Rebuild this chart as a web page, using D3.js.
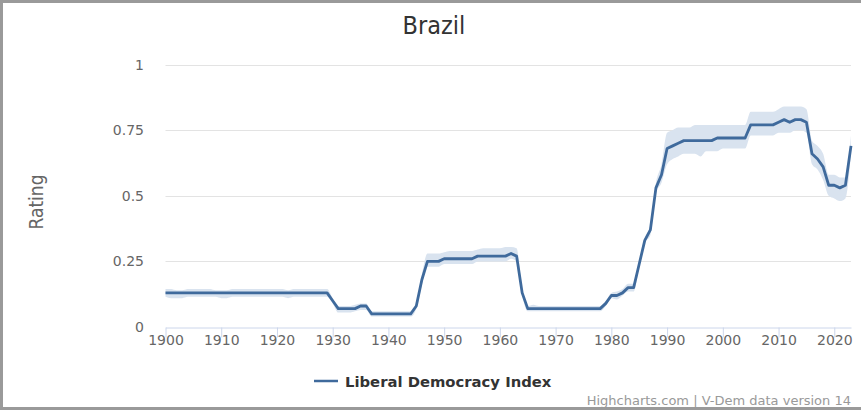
<!DOCTYPE html>
<html>
<head>
<meta charset="utf-8">
<script src="https://cdn.jsdelivr.net/npm/d3@7"></script>
<style>
  body { margin: 0; background: #fff; }
  svg { display: block; font-family: "DejaVu Sans", Verdana, sans-serif; }
</style>
</head>
<body>
<svg id="chart" width="861" height="410"></svg>
<script>
// years 1900 - 2023
const years = d3.range(1900, 2024)

// Liberal Democracy Index
const libdem = [
  0.13, 0.13, 0.13, 0.13, 0.13, 0.13, 0.13, 0.13, 0.13, 0.13, // 1900s
  0.13, 0.13, 0.13, 0.13, 0.13, 0.13, 0.13, 0.13, 0.13, 0.13, // 1910s
  0.13, 0.13, 0.13, 0.13, 0.13, 0.13, 0.13, 0.13, 0.13, 0.13, // 1920s
  0.10, 0.07, 0.07, 0.07, 0.07, 0.08, 0.08, 0.05, 0.05, 0.05, // 1930s
  0.05, 0.05, 0.05, 0.05, 0.05, 0.08, 0.18, 0.25, 0.25, 0.25, // 1940s
  0.26, 0.26, 0.26, 0.26, 0.26, 0.26, 0.27, 0.27, 0.27, 0.27, // 1950s
  0.27, 0.27, 0.28, 0.27, 0.13, 0.07, 0.07, 0.07, 0.07, 0.07, // 1960s
  0.07, 0.07, 0.07, 0.07, 0.07, 0.07, 0.07, 0.07, 0.07, 0.09, // 1970s
  0.12, 0.12, 0.13, 0.15, 0.15, 0.24, 0.33, 0.37, 0.53, 0.58, // 1980s
  0.68, 0.69, 0.70, 0.71, 0.71, 0.71, 0.71, 0.71, 0.71, 0.72, // 1990s
  0.72, 0.72, 0.72, 0.72, 0.72, 0.77, 0.77, 0.77, 0.77, 0.77, // 2000s
  0.78, 0.79, 0.78, 0.79, 0.79, 0.78, 0.66, 0.64, 0.61, 0.54, // 2010s
  0.54, 0.53, 0.54, 0.69                                      // 2020s
]

// confidence band, upper and lower
const upper = [
  0.145, 0.145, 0.14, 0.14, 0.145, 0.145, 0.145, 0.145, 0.145, 0.14,
  0.14, 0.14, 0.145, 0.145, 0.145, 0.145, 0.145, 0.145, 0.145, 0.145,
  0.145, 0.145, 0.14, 0.145, 0.145, 0.145, 0.145, 0.145, 0.145, 0.145,
  0.11, 0.08, 0.08, 0.08, 0.085, 0.09, 0.09, 0.06, 0.06, 0.06,
  0.06, 0.06, 0.06, 0.06, 0.06, 0.09, 0.20, 0.28, 0.28, 0.28,
  0.285, 0.29, 0.29, 0.29, 0.29, 0.29, 0.295, 0.30, 0.30, 0.30,
  0.30, 0.305, 0.305, 0.30, 0.14, 0.08, 0.085, 0.08, 0.08, 0.08,
  0.08, 0.08, 0.08, 0.08, 0.08, 0.08, 0.08, 0.08, 0.08, 0.10,
  0.13, 0.135, 0.145, 0.165, 0.165, 0.25, 0.34, 0.39, 0.55, 0.62,
  0.74, 0.75, 0.76, 0.76, 0.76, 0.77, 0.77, 0.77, 0.77, 0.77,
  0.77, 0.77, 0.77, 0.77, 0.77, 0.82, 0.82, 0.82, 0.82, 0.82,
  0.83, 0.84, 0.84, 0.84, 0.84, 0.83, 0.71, 0.69, 0.66, 0.58,
  0.58, 0.57, 0.57, 0.73
]

const lower = [
  0.115, 0.11, 0.11, 0.11, 0.115, 0.115, 0.115, 0.115, 0.115, 0.115,
  0.11, 0.11, 0.115, 0.115, 0.115, 0.115, 0.115, 0.115, 0.115, 0.115,
  0.115, 0.115, 0.11, 0.115, 0.115, 0.115, 0.115, 0.115, 0.115, 0.115,
  0.09, 0.055, 0.055, 0.055, 0.06, 0.065, 0.065, 0.04, 0.04, 0.04,
  0.04, 0.04, 0.04, 0.04, 0.04, 0.07, 0.16, 0.23, 0.23, 0.23,
  0.24, 0.24, 0.24, 0.24, 0.24, 0.24, 0.25, 0.25, 0.25, 0.25,
  0.25, 0.25, 0.26, 0.25, 0.12, 0.06, 0.06, 0.06, 0.06, 0.06,
  0.06, 0.06, 0.06, 0.06, 0.06, 0.06, 0.06, 0.06, 0.06, 0.08,
  0.11, 0.105, 0.12, 0.135, 0.135, 0.23, 0.32, 0.35, 0.51, 0.55,
  0.62, 0.64, 0.65, 0.66, 0.66, 0.66, 0.65, 0.67, 0.67, 0.67,
  0.68, 0.68, 0.68, 0.68, 0.68, 0.73, 0.73, 0.73, 0.73, 0.73,
  0.74, 0.74, 0.74, 0.75, 0.75, 0.74, 0.62, 0.60, 0.56, 0.50,
  0.49, 0.48, 0.49, 0.66
]

const yTicks = [0, 0.25, 0.5, 0.75, 1]
const yTickLabels = ["0", "0.25", "0.5", "0.75", "1"]
const xTicks = d3.range(1900, 2021, 10)

const data = years.map((yr, i) => ({year: yr, value: libdem[i], hi: upper[i], lo: lower[i]}))

const xScale = d3.scaleLinear()
    .domain([1900, 2023])
    .range([165.5, 851])

const yScale = d3.scaleLinear()
    .domain([0, 1])
    .range([327, 64.5])

const svg = d3.select('#chart')

// outer frame (top, left, bottom)
svg.append('path')
    .attr('d', 'M861,1.5 H1.5 V408.5 H861')
    .attr('fill', 'none')
    .attr('stroke', '#9a9a9a')
    .attr('stroke-width', 3)

svg.append('text')
    .attr('x', 434)
    .attr('y', 34)
    .attr('text-anchor', 'middle')
    .style('font-family', '"DejaVu Sans Condensed", "Liberation Sans Narrow", "DejaVu Sans", sans-serif')
    .style('font-size', '25px')
    .attr('fill', '#333')
    .text('Brazil')

// grid lines
svg.append('g')
    .selectAll('line')
    .data(yTicks.slice(1))
    .enter()
    .append('line')
    .attr('x1', 165.5)
    .attr('x2', 851)
    .attr('y1', d => Math.round(yScale(d)) + 0.5)
    .attr('y2', d => Math.round(yScale(d)) + 0.5)
    .attr('stroke', '#e3e3e3')
    .attr('stroke-width', 1)

// y labels
svg.append('g')
    .selectAll('text')
    .data(yTicks)
    .enter()
    .append('text')
    .attr('x', 144)
    .attr('y', d => yScale(d) + 5)
    .attr('text-anchor', 'end')
    .style('font-size', '14px')
    .attr('fill', '#666')
    .text((d, i) => yTickLabels[i])

svg.append('text')
    .attr('transform', 'translate(43,202) rotate(-90)')
    .attr('text-anchor', 'middle')
    .style('font-family', '"DejaVu Sans Condensed", "Liberation Sans Narrow", "DejaVu Sans", sans-serif')
    .style('font-size', '19px')
    .attr('fill', '#666')
    .text('Rating')

// x axis
const xAxis = d3.axisBottom(xScale)
    .tickValues(xTicks)
    .tickFormat(d3.format('d'))
    .tickSize(10)
    .tickSizeOuter(0)

const gx = svg.append('g')
    .attr('transform', 'translate(0,327.5)')
    .call(xAxis)
gx.select('.domain').attr('stroke', '#ccd6eb')
gx.selectAll('.tick line').attr('stroke', '#ccd6eb')
gx.selectAll('.tick text')
    .attr('fill', '#666')
    .attr('y', 8)
    .attr('dy', '0.71em')
    .style('font-size', '14px')
    .style('font-family', '"DejaVu Sans", sans-serif')

// confidence band
const band = d3.area()
    .x(d => xScale(d.year))
    .y0(d => yScale(d.lo))
    .y1(d => yScale(d.hi))
    .curve(d3.curveMonotoneX)

svg.append('path')
    .datum(data)
    .attr('d', band)
    .attr('fill', '#d9e3ef')

const line = d3.line()
    .x(d => xScale(d.year))
    .y(d => yScale(d.value))

svg.append('path')
    .datum(data)
    .attr('d', line)
    .attr('fill', 'none')
    .attr('stroke', '#3f6a9c')
    .attr('stroke-width', 2.8)
    .attr('stroke-linejoin', 'round')

// legend
const legend = svg.append('g').attr('transform', 'translate(314,381)')
legend.append('line')
    .attr('x1', 0).attr('x2', 24)
    .attr('y1', 0).attr('y2', 0)
    .attr('stroke', '#3f6a9c')
    .attr('stroke-width', 2.5)
legend.append('text')
    .attr('x', 31)
    .attr('y', 5.5)
    .style('font-size', '14.8px')
    .style('font-weight', 'bold')
    .attr('fill', '#333')
    .text('Liberal Democracy Index')

svg.append('text')
    .attr('x', 851)
    .attr('y', 405)
    .attr('text-anchor', 'end')
    .style('font-size', '13px')
    .attr('fill', '#999')
    .text('Highcharts.com | V-Dem data version 14')
</script>
</body>
</html>
